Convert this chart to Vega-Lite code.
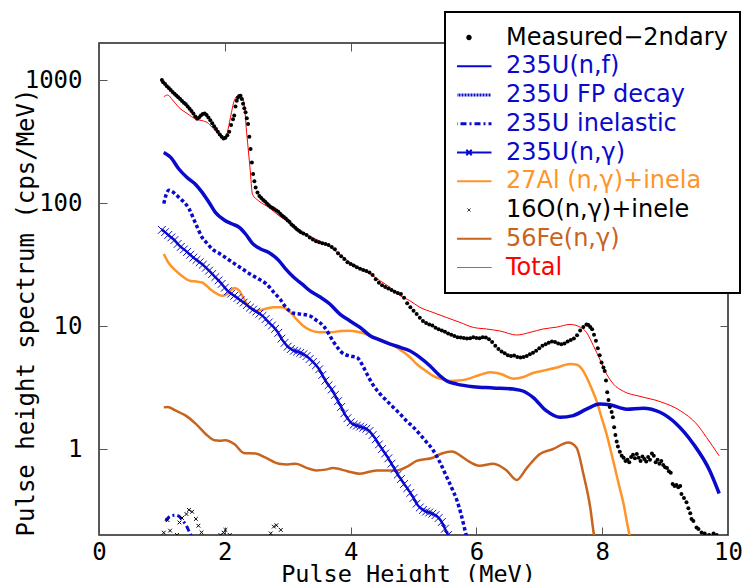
{
  "$schema": "https://vega.github.io/schema/vega-lite/v6.json",
  "width": 629,
  "height": 492,
  "autosize": {"type": "none"},
  "padding": {"left": 99, "top": 43, "right": 17, "bottom": 47},
  "background": "white",
  "config": {"view": {"stroke": "#222", "strokeWidth": 1.5}, "font": "DejaVu Sans Mono"},
  "datasets": {
    "measured": [
      {"x":1.00,"y":1000},{"x":1.02,"y":960},{"x":1.05,"y":930},{"x":1.08,"y":890},{"x":1.11,"y":860},{"x":1.14,"y":830},{"x":1.17,"y":800},{"x":1.20,"y":775},{"x":1.23,"y":750},{"x":1.26,"y":725},{"x":1.29,"y":700},{"x":1.32,"y":675},{"x":1.35,"y":655},{"x":1.38,"y":635},{"x":1.41,"y":610},{"x":1.44,"y":585},{"x":1.47,"y":560},{"x":1.50,"y":535},{"x":1.53,"y":505},{"x":1.56,"y":485},{"x":1.59,"y":495},{"x":1.62,"y":515},{"x":1.65,"y":530},{"x":1.68,"y":535},{"x":1.71,"y":520},{"x":1.74,"y":495},{"x":1.77,"y":470},{"x":1.80,"y":445},{"x":1.83,"y":420},{"x":1.86,"y":400},{"x":1.89,"y":380},{"x":1.92,"y":360},{"x":1.95,"y":345},{"x":1.98,"y":335},{"x":2.01,"y":340},{"x":2.04,"y":355},{"x":2.07,"y":380},{"x":2.10,"y":430},{"x":2.13,"y":480},{"x":2.15,"y":515},{"x":2.17,"y":610},{"x":2.19,"y":680},{"x":2.21,"y":720},{"x":2.23,"y":740},{"x":2.25,"y":745},{"x":2.27,"y":700},{"x":2.29,"y":640},{"x":2.31,"y":590},{"x":2.33,"y":546},{"x":2.35,"y":490},{"x":2.37,"y":440},{"x":2.39,"y":346},{"x":2.41,"y":275},{"x":2.43,"y":214},{"x":2.45,"y":172},{"x":2.47,"y":150},{"x":2.49,"y":134},{"x":2.52,"y":122},{"x":2.55,"y":114},{"x":2.58,"y":110},{"x":2.61,"y":106},{"x":2.64,"y":103},{"x":2.67,"y":99},{"x":2.70,"y":96},{"x":2.73,"y":93},{"x":2.76,"y":91},{"x":2.79,"y":89},{"x":2.82,"y":87},{"x":2.85,"y":85},{"x":2.88,"y":82},{"x":2.91,"y":79},{"x":2.94,"y":77},{"x":2.97,"y":75},{"x":3.00,"y":72},{"x":3.03,"y":70},{"x":3.06,"y":67},{"x":3.09,"y":65},{"x":3.12,"y":63},{"x":3.15,"y":61},{"x":3.18,"y":59.6},{"x":3.21,"y":58},{"x":3.25,"y":56.5},{"x":3.30,"y":55},{"x":3.35,"y":52.5},{"x":3.40,"y":50.5},{"x":3.45,"y":49},{"x":3.50,"y":48},{"x":3.55,"y":47},{"x":3.60,"y":46.5},{"x":3.65,"y":45.5},{"x":3.70,"y":44},{"x":3.75,"y":42},{"x":3.80,"y":39},{"x":3.85,"y":37},{"x":3.90,"y":35},{"x":3.95,"y":33},{"x":4.00,"y":32},{"x":4.05,"y":31},{"x":4.10,"y":30},{"x":4.15,"y":29.2},{"x":4.20,"y":28.5},{"x":4.25,"y":28},{"x":4.30,"y":27.3},{"x":4.35,"y":26},{"x":4.40,"y":24},{"x":4.45,"y":22.5},{"x":4.50,"y":21.5},{"x":4.55,"y":20.8},{"x":4.60,"y":20.2},{"x":4.65,"y":19.6},{"x":4.70,"y":19},{"x":4.75,"y":18.6},{"x":4.80,"y":18.2},{"x":4.85,"y":17},{"x":4.90,"y":15.3},{"x":4.95,"y":14.2},{"x":5.00,"y":13.3},{"x":5.05,"y":12.5},{"x":5.10,"y":11.7},{"x":5.15,"y":11.0},{"x":5.20,"y":10.6},{"x":5.25,"y":10.3},{"x":5.30,"y":10.1},{"x":5.35,"y":9.7},{"x":5.40,"y":9.4},{"x":5.45,"y":9.2},{"x":5.50,"y":9.0},{"x":5.55,"y":8.7},{"x":5.60,"y":8.5},{"x":5.65,"y":8.3},{"x":5.70,"y":8.1},{"x":5.75,"y":8.05},{"x":5.80,"y":8.0},{"x":5.85,"y":7.9},{"x":5.90,"y":7.95},{"x":5.95,"y":8.1},{"x":6.00,"y":8.0},{"x":6.05,"y":7.95},{"x":6.10,"y":8.1},{"x":6.15,"y":8.05},{"x":6.20,"y":7.8},{"x":6.25,"y":7.4},{"x":6.30,"y":6.9},{"x":6.35,"y":6.5},{"x":6.40,"y":6.2},{"x":6.45,"y":6.0},{"x":6.50,"y":5.8},{"x":6.55,"y":5.7},{"x":6.60,"y":5.75},{"x":6.65,"y":5.6},{"x":6.70,"y":5.55},{"x":6.75,"y":5.6},{"x":6.80,"y":5.7},{"x":6.85,"y":5.9},{"x":6.90,"y":6.05},{"x":6.95,"y":6.3},{"x":7.00,"y":6.6},{"x":7.05,"y":6.9},{"x":7.10,"y":7.1},{"x":7.15,"y":7.3},{"x":7.20,"y":7.5},{"x":7.25,"y":7.4},{"x":7.30,"y":7.2},{"x":7.35,"y":7.1},{"x":7.40,"y":7.2},{"x":7.45,"y":7.5},{"x":7.50,"y":7.7},{"x":7.55,"y":7.9},{"x":7.60,"y":8.4},{"x":7.65,"y":9.2},{"x":7.70,"y":9.8},{"x":7.75,"y":10.3},{"x":7.78,"y":10.2},{"x":7.81,"y":9.8},{"x":7.84,"y":9.4},{"x":7.87,"y":8.5},{"x":7.90,"y":7.6},{"x":7.93,"y":6.6},{"x":7.96,"y":5.8},{"x":7.99,"y":5.06},{"x":8.02,"y":4.6},{"x":8.04,"y":4.3},{"x":8.06,"y":3.6},{"x":8.08,"y":2.9},{"x":8.10,"y":2.5},{"x":8.12,"y":2.2},{"x":8.15,"y":2.0},{"x":8.17,"y":1.81},{"x":8.19,"y":1.5},{"x":8.21,"y":1.3},{"x":8.23,"y":1.15},{"x":8.25,"y":1.05},{"x":8.28,"y":0.95},{"x":8.31,"y":0.88},{"x":8.34,"y":0.85},{"x":8.37,"y":0.8},{"x":8.40,"y":0.82},{"x":8.43,"y":0.78},{"x":8.46,"y":0.86},{"x":8.49,"y":0.90},{"x":8.52,"y":0.84},{"x":8.55,"y":0.91},{"x":8.58,"y":0.85},{"x":8.61,"y":0.80},{"x":8.64,"y":0.87},{"x":8.67,"y":0.83},{"x":8.70,"y":0.79},{"x":8.73,"y":0.86},{"x":8.76,"y":0.82},{"x":8.79,"y":0.92},{"x":8.82,"y":0.88},{"x":8.85,"y":0.78},{"x":8.88,"y":0.82},{"x":8.91,"y":0.76},{"x":8.94,"y":0.80},{"x":8.97,"y":0.74},{"x":9.00,"y":0.71},{"x":9.03,"y":0.70},{"x":9.06,"y":0.66},{"x":9.09,"y":0.64},{"x":9.12,"y":0.52},{"x":9.15,"y":0.50},{"x":9.18,"y":0.51},{"x":9.21,"y":0.49},{"x":9.24,"y":0.50},{"x":9.26,"y":0.43},{"x":9.30,"y":0.40},{"x":9.34,"y":0.37},{"x":9.37,"y":0.33},{"x":9.40,"y":0.30},{"x":9.42,"y":0.27},{"x":9.45,"y":0.26},{"x":9.50,"y":0.23},{"x":9.53,"y":0.224},{"x":9.58,"y":0.21},{"x":9.63,"y":0.206},{"x":9.70,"y":0.2},{"x":9.77,"y":0.206},{"x":9.82,"y":0.2}
    ],
    "nf": [
      {"x":1.03,"y":258},{"x":1.14,"y":235},{"x":1.27,"y":189},{"x":1.40,"y":161},{"x":1.54,"y":141},{"x":1.64,"y":122},{"x":1.75,"y":101},{"x":1.85,"y":84},{"x":1.99,"y":72.8},{"x":2.12,"y":67.5},{"x":2.23,"y":63.4},{"x":2.33,"y":56},{"x":2.44,"y":47},{"x":2.57,"y":42.3},{"x":2.70,"y":39.6},{"x":2.86,"y":34},{"x":2.97,"y":29},{"x":3.10,"y":24.8},{"x":3.23,"y":21.9},{"x":3.35,"y":19.4},{"x":3.51,"y":17.3},{"x":3.67,"y":15.1},{"x":3.83,"y":12.5},{"x":3.99,"y":11.0},{"x":4.15,"y":9.75},{"x":4.31,"y":8.34},{"x":4.47,"y":7.69},{"x":4.63,"y":7.14},{"x":4.79,"y":6.7},{"x":4.94,"y":6.29},{"x":5.10,"y":5.56},{"x":5.26,"y":4.75},{"x":5.42,"y":3.94},{"x":5.53,"y":3.57},{"x":5.69,"y":3.37},{"x":5.95,"y":3.21},{"x":6.27,"y":3.14},{"x":6.59,"y":3.07},{"x":6.75,"y":2.95},{"x":6.90,"y":2.63},{"x":7.11,"y":2.05},{"x":7.33,"y":1.81},{"x":7.54,"y":1.87},{"x":7.75,"y":2.11},{"x":7.96,"y":2.32},{"x":8.12,"y":2.29},{"x":8.39,"y":2.11},{"x":8.65,"y":2.15},{"x":8.92,"y":1.99},{"x":9.18,"y":1.60},{"x":9.45,"y":1.10},{"x":9.71,"y":0.667},{"x":9.86,"y":0.435}
    ],
    "fp": [
      {"x":1.03,"y":99},{"x":1.07,"y":118},{"x":1.11,"y":127},{"x":1.16,"y":124},{"x":1.27,"y":111},{"x":1.43,"y":90},{"x":1.54,"y":67.4},{"x":1.64,"y":52.5},{"x":1.72,"y":47},{"x":1.80,"y":42.2},{"x":1.91,"y":39},{"x":2.01,"y":36.1},{"x":2.12,"y":33},{"x":2.28,"y":29.1},{"x":2.40,"y":26.5},{"x":2.54,"y":24.1},{"x":2.66,"y":22},{"x":2.78,"y":18.8},{"x":2.88,"y":16.5},{"x":2.97,"y":14.2},{"x":3.10,"y":12.7},{"x":3.20,"y":12.5},{"x":3.35,"y":12.1},{"x":3.45,"y":11.2},{"x":3.57,"y":10},{"x":3.65,"y":8.7},{"x":3.72,"y":7.55},{"x":3.80,"y":6.6},{"x":3.88,"y":5.98},{"x":4.00,"y":5.7},{"x":4.10,"y":5.56},{"x":4.18,"y":4.9},{"x":4.26,"y":4.07},{"x":4.36,"y":3.3},{"x":4.47,"y":2.80},{"x":4.58,"y":2.45},{"x":4.68,"y":2.18},{"x":4.79,"y":1.92},{"x":4.89,"y":1.69},{"x":5.00,"y":1.5},{"x":5.10,"y":1.32},{"x":5.20,"y":1.15},{"x":5.31,"y":0.98},{"x":5.42,"y":0.78},{"x":5.53,"y":0.59},{"x":5.61,"y":0.48},{"x":5.69,"y":0.383},{"x":5.76,"y":0.29},{"x":5.82,"y":0.217},{"x":5.86,"y":0.18}
    ],
    "inel": [
      {"x":1.06,"y":0.26},{"x":1.09,"y":0.273},{"x":1.15,"y":0.287},{"x":1.22,"y":0.29},{"x":1.30,"y":0.275},{"x":1.35,"y":0.255},{"x":1.39,"y":0.238},{"x":1.43,"y":0.215},{"x":1.46,"y":0.2},{"x":1.48,"y":0.19}
    ],
    "ng": [
      {"x":1.00,"y":60.5},{"x":1.05,"y":58},{"x":1.10,"y":55},{"x":1.15,"y":52.5},{"x":1.20,"y":50},{"x":1.25,"y":46.5},{"x":1.30,"y":44},{"x":1.35,"y":42},{"x":1.40,"y":40},{"x":1.45,"y":38},{"x":1.50,"y":36},{"x":1.55,"y":34.5},{"x":1.60,"y":33},{"x":1.65,"y":31.5},{"x":1.70,"y":29.8},{"x":1.75,"y":28.2},{"x":1.80,"y":26.5},{"x":1.85,"y":25},{"x":1.90,"y":23.5},{"x":1.95,"y":22},{"x":2.00,"y":20.5},{"x":2.05,"y":19.2},{"x":2.10,"y":18.3},{"x":2.15,"y":17.6},{"x":2.20,"y":16.9},{"x":2.25,"y":16.2},{"x":2.30,"y":15.5},{"x":2.35,"y":14.8},{"x":2.40,"y":14.1},{"x":2.45,"y":13.6},{"x":2.50,"y":13.1},{"x":2.55,"y":12.6},{"x":2.60,"y":12.1},{"x":2.65,"y":11.4},{"x":2.70,"y":10.7},{"x":2.75,"y":10.1},{"x":2.80,"y":9.5},{"x":2.85,"y":8.8},{"x":2.90,"y":7.9},{"x":2.95,"y":7.3},{"x":3.00,"y":6.8},{"x":3.05,"y":6.5},{"x":3.10,"y":6.3},{"x":3.15,"y":6.2},{"x":3.20,"y":6.05},{"x":3.25,"y":5.9},{"x":3.30,"y":5.7},{"x":3.35,"y":5.4},{"x":3.40,"y":5.1},{"x":3.45,"y":4.8},{"x":3.50,"y":4.45},{"x":3.55,"y":4.0},{"x":3.60,"y":3.6},{"x":3.65,"y":3.3},{"x":3.70,"y":3.05},{"x":3.75,"y":2.75},{"x":3.80,"y":2.45},{"x":3.85,"y":2.2},{"x":3.90,"y":1.95},{"x":3.95,"y":1.78},{"x":4.00,"y":1.65},{"x":4.05,"y":1.58},{"x":4.10,"y":1.55},{"x":4.15,"y":1.52},{"x":4.20,"y":1.49},{"x":4.25,"y":1.46},{"x":4.30,"y":1.40},{"x":4.35,"y":1.30},{"x":4.40,"y":1.20},{"x":4.45,"y":1.09},{"x":4.50,"y":1.00},{"x":4.55,"y":0.92},{"x":4.60,"y":0.84},{"x":4.65,"y":0.76},{"x":4.70,"y":0.69},{"x":4.75,"y":0.62},{"x":4.80,"y":0.57},{"x":4.85,"y":0.52},{"x":4.90,"y":0.48},{"x":4.95,"y":0.44},{"x":5.00,"y":0.40},{"x":5.05,"y":0.36},{"x":5.10,"y":0.335},{"x":5.15,"y":0.32},{"x":5.20,"y":0.31},{"x":5.25,"y":0.305},{"x":5.30,"y":0.298},{"x":5.35,"y":0.29},{"x":5.40,"y":0.275},{"x":5.45,"y":0.255},{"x":5.50,"y":0.225},{"x":5.55,"y":0.2},{"x":5.58,"y":0.185}
    ],
    "al": [
      {"x":1.03,"y":38.5},{"x":1.10,"y":33},{"x":1.22,"y":28.2},{"x":1.30,"y":26},{"x":1.46,"y":23.2},{"x":1.55,"y":23},{"x":1.64,"y":22.6},{"x":1.72,"y":21},{"x":1.80,"y":19.4},{"x":1.90,"y":18},{"x":1.96,"y":17.6},{"x":2.04,"y":18.2},{"x":2.10,"y":19.5},{"x":2.15,"y":20.4},{"x":2.23,"y":19.4},{"x":2.28,"y":17.5},{"x":2.33,"y":15.6},{"x":2.41,"y":14},{"x":2.49,"y":13.3},{"x":2.57,"y":13.5},{"x":2.65,"y":13.8},{"x":2.78,"y":14.2},{"x":2.91,"y":14.2},{"x":3.00,"y":13.5},{"x":3.07,"y":12.5},{"x":3.15,"y":11.2},{"x":3.23,"y":10.2},{"x":3.35,"y":9.3},{"x":3.50,"y":8.9},{"x":3.67,"y":8.9},{"x":3.85,"y":9.1},{"x":3.99,"y":9.16},{"x":4.15,"y":8.9},{"x":4.31,"y":8.34},{"x":4.41,"y":8.0},{"x":4.57,"y":7.4},{"x":4.70,"y":6.9},{"x":4.79,"y":6.4},{"x":4.94,"y":5.6},{"x":5.05,"y":4.91},{"x":5.20,"y":4.3},{"x":5.31,"y":3.94},{"x":5.45,"y":3.7},{"x":5.58,"y":3.57},{"x":5.72,"y":3.6},{"x":5.85,"y":3.7},{"x":6.05,"y":4.0},{"x":6.22,"y":4.2},{"x":6.40,"y":4.05},{"x":6.59,"y":3.73},{"x":6.75,"y":3.85},{"x":6.90,"y":4.15},{"x":7.06,"y":4.33},{"x":7.28,"y":4.6},{"x":7.49,"y":4.91},{"x":7.60,"y":4.85},{"x":7.70,"y":4.3},{"x":7.78,"y":3.57},{"x":7.85,"y":2.95},{"x":7.91,"y":2.46},{"x":7.99,"y":1.8},{"x":8.07,"y":1.32},{"x":8.14,"y":0.95},{"x":8.20,"y":0.71},{"x":8.27,"y":0.5},{"x":8.34,"y":0.357},{"x":8.42,"y":0.217},{"x":8.46,"y":0.18}
    ],
    "o16": [
      {"x":1.03,"y":0.209},{"x":1.13,"y":0.217},{"x":1.24,"y":0.2},{"x":1.09,"y":0.264},{"x":1.28,"y":0.253},{"x":1.32,"y":0.275},{"x":1.39,"y":0.296},{"x":1.43,"y":0.32},{"x":1.48,"y":0.309},{"x":1.54,"y":0.27},{"x":1.58,"y":0.238},{"x":1.63,"y":0.21},{"x":1.93,"y":0.2},{"x":1.98,"y":0.209},{"x":2.01,"y":0.22},{"x":2.08,"y":0.2},{"x":2.73,"y":0.206},{"x":2.78,"y":0.234},{"x":2.82,"y":0.24},{"x":2.89,"y":0.22}
    ],
    "fe": [
      {"x":1.03,"y":2.18},{"x":1.09,"y":2.2},{"x":1.22,"y":2.05},{"x":1.38,"y":1.87},{"x":1.54,"y":1.60},{"x":1.70,"y":1.32},{"x":1.83,"y":1.18},{"x":1.92,"y":1.17},{"x":2.01,"y":1.18},{"x":2.15,"y":1.10},{"x":2.30,"y":0.93},{"x":2.49,"y":0.92},{"x":2.65,"y":0.85},{"x":2.86,"y":0.76},{"x":3.00,"y":0.75},{"x":3.13,"y":0.76},{"x":3.31,"y":0.70},{"x":3.46,"y":0.67},{"x":3.60,"y":0.68},{"x":3.72,"y":0.70},{"x":3.95,"y":0.66},{"x":4.15,"y":0.63},{"x":4.41,"y":0.67},{"x":4.73,"y":0.67},{"x":4.90,"y":0.72},{"x":5.05,"y":0.80},{"x":5.31,"y":0.85},{"x":5.45,"y":0.92},{"x":5.61,"y":0.955},{"x":5.75,"y":0.88},{"x":5.85,"y":0.81},{"x":6.05,"y":0.73},{"x":6.27,"y":0.76},{"x":6.48,"y":0.67},{"x":6.64,"y":0.56},{"x":6.80,"y":0.70},{"x":7.01,"y":0.91},{"x":7.22,"y":1.0},{"x":7.46,"y":1.13},{"x":7.59,"y":1.03},{"x":7.70,"y":0.63},{"x":7.81,"y":0.335},{"x":7.87,"y":0.2},{"x":7.90,"y":0.17}
    ],
    "total": [
      {"x":1.03,"y":731},{"x":1.09,"y":755},{"x":1.17,"y":688},{"x":1.27,"y":599},{"x":1.40,"y":535},{"x":1.54,"y":482},{"x":1.64,"y":467},{"x":1.72,"y":452},{"x":1.80,"y":412},{"x":1.90,"y":364},{"x":1.98,"y":331},{"x":2.04,"y":375},{"x":2.09,"y":497},{"x":2.15,"y":679},{"x":2.21,"y":745},{"x":2.28,"y":722},{"x":2.32,"y":562},{"x":2.34,"y":412},{"x":2.37,"y":283},{"x":2.40,"y":195},{"x":2.44,"y":118},{"x":2.54,"y":104},{"x":2.70,"y":92},{"x":2.86,"y":78.9},{"x":3.02,"y":69.5},{"x":3.18,"y":59.6},{"x":3.34,"y":54.2},{"x":3.50,"y":49.3},{"x":3.67,"y":44},{"x":3.83,"y":38},{"x":3.99,"y":33},{"x":4.15,"y":29.5},{"x":4.31,"y":26.5},{"x":4.47,"y":23.3},{"x":4.63,"y":20.6},{"x":4.79,"y":17.6},{"x":4.94,"y":16.1},{"x":5.10,"y":14.2},{"x":5.31,"y":12.9},{"x":5.53,"y":11.7},{"x":5.74,"y":10.7},{"x":5.95,"y":9.75},{"x":6.16,"y":9.46},{"x":6.38,"y":9.1},{"x":6.64,"y":8.45},{"x":6.85,"y":8.87},{"x":7.06,"y":9.46},{"x":7.28,"y":9.8},{"x":7.49,"y":10.3},{"x":7.65,"y":9.8},{"x":7.75,"y":8.87},{"x":7.86,"y":6.92},{"x":7.96,"y":5.39},{"x":8.07,"y":4.07},{"x":8.18,"y":3.37},{"x":8.34,"y":2.94},{"x":8.60,"y":2.68},{"x":8.92,"y":2.43},{"x":9.24,"y":2.05},{"x":9.50,"y":1.60},{"x":9.66,"y":1.24},{"x":9.86,"y":0.88}
    ]
  },
  "resolve": {"axis": {"x": "independent", "y": "independent"}},
  "layer": [
    {
      "encoding": {
        "x": {
          "field": "x", "type": "quantitative",
          "scale": {"domain": [0, 10], "nice": false, "zero": false},
          "axis": {
            "title": "Pulse Height (MeV)", "values": [0, 2, 4, 6, 8, 10], "format": "d",
            "labelFlush": false, "labelFont": "DejaVu Sans Mono", "labelFontSize": 24, "labelColor": "black",
            "labelPadding": 13, "tickSize": -8, "tickColor": "#555", "tickWidth": 1, "domain": false, "grid": false,
            "titleFont": "DejaVu Sans Mono", "titleFontSize": 23.5, "titleFontWeight": "normal", "titleColor": "black",
            "titleX": 309, "titleY": 46, "titleAlign": "center", "titleBaseline": "alphabetic"
          }
        },
        "y": {
          "field": "y", "type": "quantitative",
          "scale": {"type": "log", "domain": [0.2, 2000], "nice": false},
          "axis": {
            "title": "Pulse height spectrum (cps/MeV)", "values": [1, 10, 100, 1000], "format": "d",
            "labelFont": "DejaVu Sans Mono", "labelFontSize": 24, "labelColor": "black",
            "labelPadding": 25, "tickSize": -8, "tickColor": "#555", "tickWidth": 1, "domain": false, "grid": false,
            "titleFont": "DejaVu Sans Mono", "titleFontSize": 24, "titleFontWeight": "normal", "titleColor": "black",
            "titleX": -66, "titleY": 269, "titleAngle": -90, "titleAlign": "center", "titleBaseline": "alphabetic"
          }
        }
      },
      "layer": [
        {
          "data": {"name": "fe"},
          "mark": {"type": "line", "strokeWidth": 2.5, "interpolate": "monotone", "clip": true},
          "encoding": {
            "color": {
              "datum": "56Fe(n,γ)", "type": "nominal",
              "scale": {
                "domain": ["Measured−2ndary", "235U(n,f)", "235U FP decay", "235U inelastic", "235U(n,γ)", "27Al (n,γ)+inela", "16O(n,γ)+inele", "56Fe(n,γ)", "Total"],
                "range": ["#000000", "#0A0ACC", "#0A0ACC", "#0A0ACC", "#0A0ACC", "#FF9428", "#000000", "#C8641E", "#FF0000"]
              },
              "legend": {
                "title": null, "orient": "none", "legendX": 346, "legendY": -31,
                "padding": 12, "strokeColor": "black", "fillColor": "white",
                "labelFont": "DejaVu Sans", "labelFontSize": 24, "labelLimit": 400, "labelOffset": 25,
                "symbolType": "stroke", "symbolSize": 2025, "symbolStrokeWidth": 2,
                "clipHeight": 27, "rowPadding": 1.75,
                "encode": {
                  "legend": {"update": {"strokeWidth": {"value": 2}}},
                  "labels": {"update": {"fill": {"scale": "color", "field": "value"}}},
                  "symbols": {"update": {
                    "shape": {"signal": "datum.value === 'Measured−2ndary' ? 'circle' : datum.value === '16O(n,γ)+inele' ? 'M-1,-1L1,1M-1,1L1,-1' : datum.value === '235U(n,γ)' ? 'M-1,0H1M-0.12,-0.12L0.12,0.12M-0.12,0.12L0.12,-0.12' : 'stroke'"},
                    "size": {"signal": "datum.value === 'Measured−2ndary' ? 12 : datum.value === '16O(n,γ)+inele' ? 9 : 2025"},
                    "stroke": {"scale": "color", "field": "value"},
                    "fill": {"signal": "datum.value === 'Measured−2ndary' ? 'black' : 'transparent'"},
                    "strokeDash": {"signal": "datum.value === '235U FP decay' ? [2, 1] : datum.value === '235U inelastic' ? [6, 3, 2, 3] : [1, 0]"},
                    "strokeWidth": {"signal": "datum.value === 'Total' ? 1 : (datum.value === '235U FP decay' || datum.value === '235U inelastic') ? 3 : (datum.value === '16O(n,γ)+inele' ? 1 : 2)"},
                    "opacity": {"value": 1}
                  }}
                }
              }
            }
          }
        },
        {
          "data": {"name": "al"},
          "mark": {"type": "line", "strokeWidth": 2.5, "interpolate": "monotone", "clip": true},
          "encoding": {"color": {"datum": "27Al (n,γ)+inela", "type": "nominal"}}
        },
        {
          "data": {"name": "nf"},
          "mark": {"type": "line", "strokeWidth": 3.5, "interpolate": "monotone", "clip": true},
          "encoding": {"color": {"datum": "235U(n,f)", "type": "nominal"}}
        },
        {
          "data": {"name": "fp"},
          "mark": {"type": "line", "strokeWidth": 3.5, "strokeDash": [3.5, 2.5], "interpolate": "monotone", "clip": true},
          "encoding": {"color": {"datum": "235U FP decay", "type": "nominal"}}
        },
        {
          "data": {"name": "inel"},
          "mark": {"type": "line", "strokeWidth": 3, "strokeDash": [6, 3, 2, 3], "interpolate": "monotone", "clip": true},
          "encoding": {"color": {"datum": "235U inelastic", "type": "nominal"}}
        },
        {
          "data": {"name": "ng"},
          "mark": {"type": "line", "strokeWidth": 2.5, "interpolate": "monotone", "clip": true},
          "encoding": {"color": {"datum": "235U(n,γ)", "type": "nominal"}}
        },
        {
          "data": {"name": "ng"},
          "mark": {"type": "point", "shape": "M-1,-1L1,1M-1,1L1,-1", "size": 60, "strokeWidth": 1, "filled": false, "opacity": 1, "clip": true},
          "encoding": {"color": {"datum": "235U(n,γ)", "type": "nominal"}}
        },
        {
          "data": {"name": "o16"},
          "mark": {"type": "point", "shape": "M-1,-1L1,1M-1,1L1,-1", "size": 14, "strokeWidth": 1, "filled": false, "opacity": 1, "clip": true},
          "encoding": {"color": {"datum": "16O(n,γ)+inele", "type": "nominal"}}
        },
        {
          "data": {"name": "total"},
          "mark": {"type": "line", "strokeWidth": 1, "interpolate": "monotone", "clip": true},
          "encoding": {"color": {"datum": "Total", "type": "nominal"}}
        },
        {
          "data": {"name": "measured"},
          "mark": {"type": "point", "shape": "circle", "size": 16, "filled": true, "opacity": 1, "clip": true},
          "encoding": {"color": {"datum": "Measured−2ndary", "type": "nominal"}}
        }
      ]
    },
    {
      "data": {"name": "total"},
      "mark": {"type": "point", "opacity": 0},
      "encoding": {
        "x": {"field": "x", "type": "quantitative", "axis": {"orient": "top", "values": [0, 2, 4, 6, 8, 10], "labels": false, "title": null, "tickSize": -8, "tickColor": "#555", "domain": false, "grid": false}},
        "y": {"field": "y", "type": "quantitative", "axis": {"orient": "right", "values": [1, 10, 100, 1000], "labels": false, "title": null, "tickSize": -8, "tickColor": "#555", "domain": false, "grid": false}}
      }
    }
  ]
}
